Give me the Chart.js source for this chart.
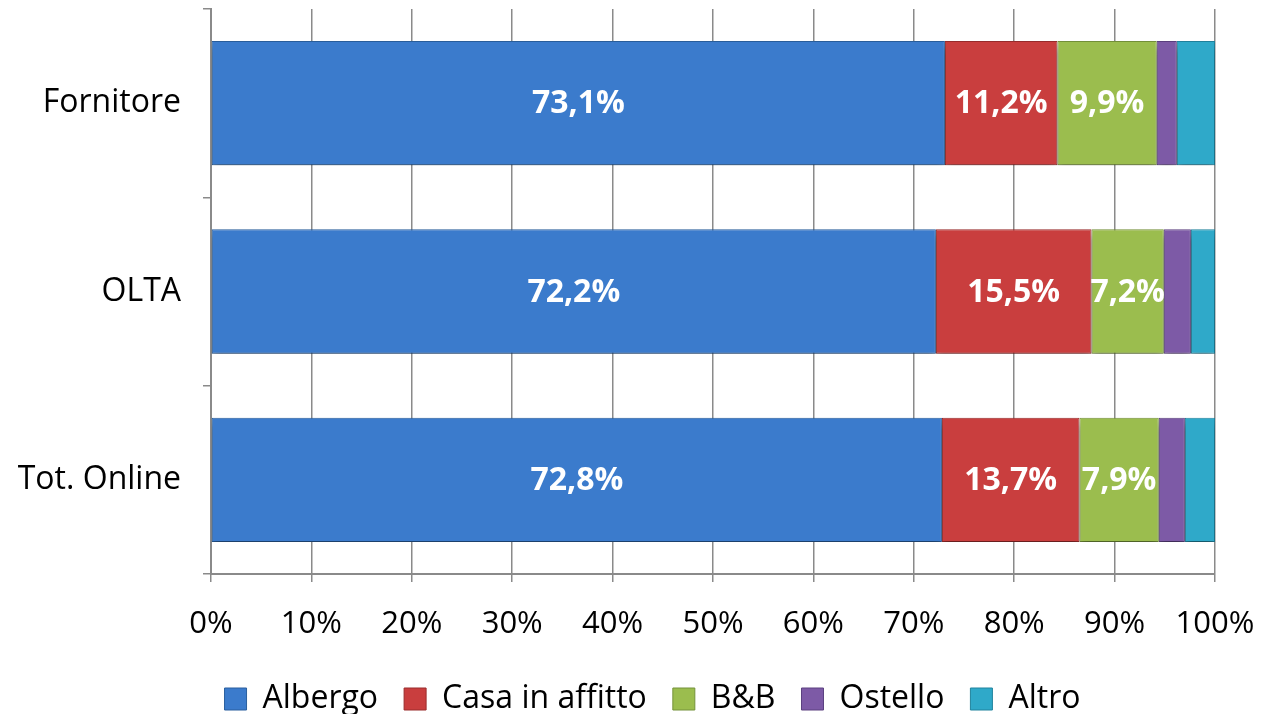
<!DOCTYPE html>
<html>
<head>
<meta charset="utf-8">
<script src="https://cdn.jsdelivr.net/npm/chart.js@4/dist/chart.umd.min.js"></script>
<style>
  html, body { margin: 0; padding: 0; background: #fff; }
  #wrap { width: 1263px; height: 714px; }
</style>
</head>
<body>
<div id="wrap"><canvas id="myBarChart"></canvas></div>
<script>
const categories = ["Fornitore", "OLTA", "Tot. Online"];
const seriesNames = ["Albergo", "Casa in affitto", "B&B", "Ostello", "Altro"];
const albergo = [73.1, 72.2, 72.8];
const casa = [11.2, 15.5, 13.7];
const bb = [9.9, 7.2, 7.9];
const ostello = [2.0, 2.7, 2.6];
const altro = [3.8, 2.4, 3.0];
const xTicks = [0, 10, 20, 30, 40, 50, 60, 70, 80, 90, 100];
// only the first three series get a label in the bars
const labelled = [true, true, true, false, false];

const colors = ["#3b7bcc", "#c93e3e", "#9bbd4e", "#7d5aa6", "#2fa9c9"];
const borders = ["#2a5f9e", "#9a2c2c", "#75923a", "#5c4180", "#21839e"];
const font = "'Open Sans', 'Noto Sans', sans-serif";

// soft grey shadow under the bars, like the original
const barShadow = {
    id: "barShadow",
    beforeDatasetsDraw(chart) {
        const ctx = chart.ctx;
        ctx.save();
        ctx.shadowColor = "rgba(0,0,0,0.35)";
        ctx.shadowBlur = 8;
        ctx.shadowOffsetY = 6;
    },
    afterDatasetsDraw(chart) {
        chart.ctx.restore();
    }
};

// legend in the original is centred on the whole picture, not the plot
const legendShift = {
    id: "legendShift",
    afterLayout(chart) {
        chart.legend.left += 45;
        chart.legend.right += 45;
    }
};

const barLabels = {
    id: "barLabels",
    afterDatasetsDraw(chart) {
        const ctx = chart.ctx;
        ctx.save();
        ctx.fillStyle = "#fff";
        ctx.font = "bold 32px " + font;
        ctx.textAlign = "center";
        ctx.textBaseline = "middle";
        chart.data.datasets.forEach((ds, i) => {
            if (!labelled[i]) return;
            chart.getDatasetMeta(i).data.forEach((bar, j) => {
                const txt = ds.data[j].toFixed(1).replace(".", ",") + "%";
                const cx = (bar.x + bar.base) / 2;
                ctx.fillText(txt, cx, bar.y + 1);
            });
        });
        ctx.restore();
    }
};

const seriesData = [albergo, casa, bb, ostello, altro];

const myBarChart = new Chart(document.getElementById("myBarChart").getContext("2d"), {
    type: "bar",
    data: {
        labels: categories,
        datasets: seriesNames.map((name, i) => ({
            label: name,
            data: seriesData[i],
            backgroundColor: colors[i],
            borderColor: borders[i],
            borderWidth: 1,
            borderSkipped: false,
            barPercentage: 0.66,
            categoryPercentage: 1
        }))
    },
    options: {
        indexAxis: "y",
        responsive: true,
        maintainAspectRatio: false,
        animation: false,
        layout: { padding: { top: 9, right: 48, left: 0, bottom: -11 } },
        scales: {
            x: {
                stacked: true,
                min: 0,
                max: 100,
                afterBuildTicks: (scale) => { scale.ticks = xTicks.map(v => ({ value: v })); },
                ticks: {
                    callback: (v) => v + "%",
                    color: "#000",
                    font: { family: font, size: 31 },
                    padding: 24,
                    maxRotation: 0
                },
                grid: { color: "#8a8a8a", lineWidth: 1.5, tickLength: 8 },
                border: { color: "#8a8a8a", width: 2 },
                afterFit: (scale) => {
                    scale.height = 83;
                    scale.paddingLeft = 0;
                    scale.paddingRight = 0;
                }
            },
            y: {
                stacked: true,
                offset: true,
                ticks: {
                    color: "#000",
                    font: { family: font, size: 32 },
                    padding: 22
                },
                grid: { drawOnChartArea: false, offset: true, color: "#8a8a8a", lineWidth: 1.5, tickLength: 8 },
                border: { color: "#8a8a8a", width: 2 },
                afterFit: (scale) => {
                    scale.width = 211;
                    scale.paddingTop = 0;
                    scale.paddingBottom = 0;
                }
            }
        },
        plugins: {
            legend: {
                position: "bottom",
                labels: {
                    color: "#000",
                    font: { family: font, size: 32 },
                    boxWidth: 22,
                    boxHeight: 22,
                    padding: 26
                }
            },
            tooltip: { enabled: false }
        }
    },
    plugins: [barShadow, legendShift, barLabels]
});
</script>
</body>
</html>
